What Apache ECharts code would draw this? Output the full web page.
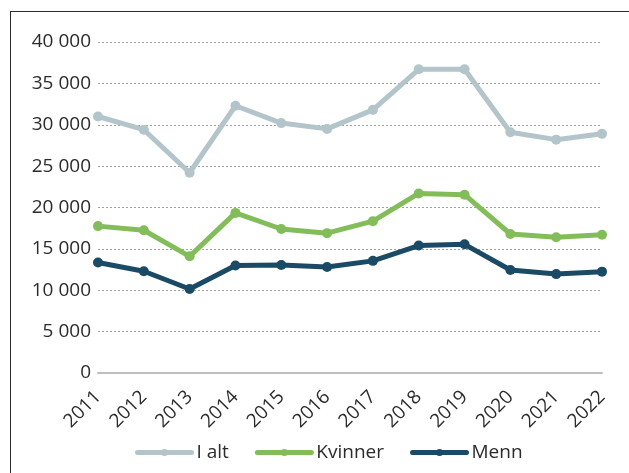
<!DOCTYPE html>
<html>
<head>
<meta charset="utf-8">
<script src="https://cdn.jsdelivr.net/npm/echarts@6/dist/echarts.min.js"></script>
<style>
  html, body { margin: 0; padding: 0; background: #fff; }
  #frame {
    position: absolute; left: 10px; top: 11px; width: 700px; height: 520px;
    border: 1.5px solid #2b2b2b; box-sizing: border-box;
  }
  #chart { position: absolute; left: 0; top: 0; width: 629px; height: 473px; }
</style>
</head>
<body>
<div id="frame"></div>
<div id="chart"></div>
<script>
const years = ["2011", "2012", "2013", "2014", "2015", "2016", "2017", "2018", "2019", "2020", "2021", "2022"];
const totalValues = [31000, 29400, 24200, 32300, 30200, 29500, 31800, 36700, 36700, 29100, 28200, 28900];
const womenValues = [17750, 17250, 14100, 19350, 17400, 16900, 18350, 21700, 21550, 16800, 16400, 16700];
const menValues = [13350, 12300, 10150, 13000, 13050, 12800, 13550, 15400, 15550, 12450, 11950, 12250];
const yTicks = { min: 0, max: 40000, interval: 5000 };

const FONT = "'Open Sans', sans-serif";
const TEXT = "#2b2b2b";

function fmt(v) {
  return String(v).replace(/\B(?=(\d{3})+(?!\d))/g, " ");
}

function lineSeries(name, data, color) {
  return {
    name,
    type: "line",
    data,
    symbol: "circle",
    symbolSize: 10,
    lineStyle: { width: 5, color, cap: "round", join: "round" },
    itemStyle: { color },
    emphasis: { disabled: true }
  };
}

const chart = echarts.init(document.getElementById("chart"), null, { renderer: "canvas" });
chart.setOption({
  animation: false,
  textStyle: { fontFamily: FONT },
  grid: { left: 98, right: 27, top: 42, bottom: 100, containLabel: false },
  legend: {
    left: 135,
    top: 443,
    padding: 0,
    itemWidth: 54,
    itemHeight: 9,
    itemGap: 26,
    lineStyle: { width: 5, cap: "round" },
    textStyle: { fontFamily: FONT, fontSize: 19, color: TEXT },
    data: ["I alt", "Kvinner", "Menn"]
  },
  xAxis: {
    type: "category",
    data: years,
    boundaryGap: false,
    axisLine: { lineStyle: { color: "#bfbfbf", width: 2 } },
    axisTick: { show: false },
    axisLabel: { rotate: 45, margin: 21, fontSize: 19, color: TEXT, fontFamily: FONT }
  },
  yAxis: {
    type: "value",
    min: yTicks.min,
    max: yTicks.max,
    interval: yTicks.interval,
    axisLine: { show: false },
    axisTick: { show: false },
    axisLabel: { margin: 7, fontSize: 19, color: TEXT, fontFamily: FONT, formatter: fmt },
    splitLine: { lineStyle: { color: "#a0a0a0", type: [2, 2], width: 1 } }
  },
  series: [
    lineSeries("I alt", totalValues, "#b3c5ca"),
    lineSeries("Kvinner", womenValues, "#83bd5a"),
    lineSeries("Menn", menValues, "#1a4a66")
  ]
});
</script>
</body>
</html>
